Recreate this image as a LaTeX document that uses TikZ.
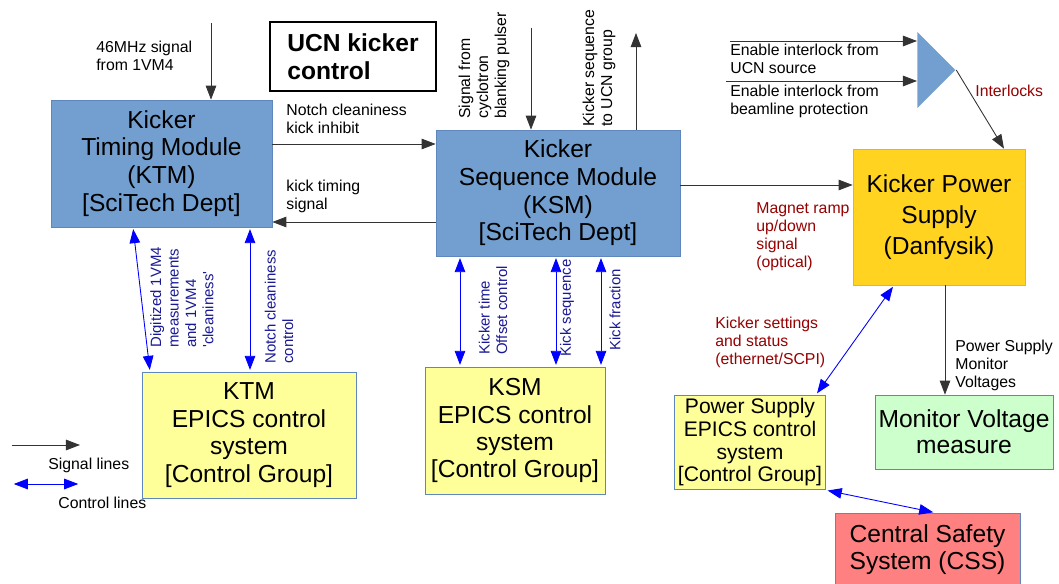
\documentclass[tikz,border=0pt]{standalone}
\usepackage{fontspec}
\setmainfont{Liberation Sans}
\usetikzlibrary{arrows.meta,shapes.geometric}

\definecolor{modblue}{RGB}{114,159,207}
\definecolor{modedge}{RGB}{95,135,190}
\definecolor{epicsyellow}{RGB}{255,255,153}
\definecolor{psgold}{RGB}{255,211,32}
\definecolor{psedge}{RGB}{255,165,50}
\definecolor{monigreen}{RGB}{204,255,204}
\definecolor{cssred}{RGB}{255,128,128}
\definecolor{ctlblue}{RGB}{0,0,255}
\definecolor{ctltext}{RGB}{25,25,150}
\definecolor{linkred}{RGB}{150,0,0}

\begin{document}
\begin{tikzpicture}[x=0.02cm, y=-0.02cm, >={Triangle[length=8pt,width=6pt]},
    module/.style={draw=modedge, fill=modblue, align=center, inner sep=2pt, font=\fontsize{14}{15.8}\selectfont},
    epics/.style={draw=modedge, fill=epicsyellow, align=center, inner sep=2pt, font=\fontsize{14}{15.6}\selectfont},
    sig/.style={->, draw=black!80, line width=0.5pt},
    ctl/.style={<->, draw=ctlblue, line width=0.5pt, shorten <=1pt, shorten >=1pt},
    note/.style={anchor=west, align=left, inner sep=0pt, font=\fontsize{9}{10.25}\selectfont},
    vnote/.style={note, rotate=90, text=ctltext, font=\fontsize{8.5}{9.9}\selectfont}]
    \useasboundingbox (0,0) rectangle (1059,584);

    % Nodes
    \node[module, minimum width=4.42cm, minimum height=2.54cm] at (161.5,163.5) (ktm) {Kicker\\Timing Module\\(KTM)\\{[SciTech Dept]}};
    \node[module, minimum width=4.88cm, minimum height=2.52cm] at (558,193) (ksm) {Kicker\\Sequence Module\\(KSM)\\{[SciTech Dept]}};
    \node[draw=psedge, fill=psgold, align=center, font=\fontsize{14}{17.6}\selectfont, minimum width=3.44cm, minimum height=2.72cm] at (939,217) (kps) {Kicker Power\\Supply\\(Danfysik)};
    \node[epics, minimum width=4.28cm, minimum height=2.52cm] at (249,435) (ktmepics) {KTM\\EPICS control\\system\\{[Control Group]}};
    \node[epics, font=\fontsize{14}{15.4}\selectfont, minimum width=3.6cm, minimum height=2.54cm] at (515,430.5) (ksmepics) {KSM\\EPICS control\\system\\{[Control Group]}};
    \node[epics, font=\fontsize{12}{12.9}\selectfont, minimum width=2.92cm, minimum height=1.82cm] at (750,442.5) (psepics) {Power Supply\\EPICS control\\system\\{[Control Group]}};
    \node[draw=modedge, fill=monigreen, align=center, inner sep=1pt, font=\fontsize{14}{14.8}\selectfont, minimum width=3.56cm, minimum height=1.48cm] at (964,432) (monitor) {Monitor Voltage\\measure};
    \node[draw=modedge, fill=cssred, align=center, inner sep=1pt, font=\fontsize{14}{15.4}\selectfont, minimum width=3.7cm, minimum height=1.48cm] at (927.5,550) (css) {Central Safety\\System (CSS)};
    \node[draw, line width=1.6pt, align=left, font=\bfseries\fontsize{14}{16}\selectfont, minimum width=3.32cm, minimum height=1.38cm] at (353,56.5) (title) {UCN kicker\\control};
    \node[isosceles triangle, isosceles triangle stretches, fill=modblue, inner sep=0pt, minimum width=1.52cm, minimum height=0.76cm, anchor=lower side] at (917,70) (gate) {};

    % Labels
    \node[note] at (96,56) (clklbl) {46MHz signal\\from 1VM4};
    \node[note] at (286,119) (inhlbl) {Notch cleaniness\\kick inhibit};
    \node[note] at (286,196) (kicklbl) {kick timing\\signal};
    \node[vnote, text=black, font=\fontsize{9}{10.25}\selectfont] at (484,119) (cyclbl) {Signal from\\cyclotron\\blanking pulser};
    \node[vnote, text=black, font=\fontsize{9}{10.25}\selectfont] at (599,127) (ucnlbl) {Kicker sequence\\to UCN group};
    \node[note] at (730,59) (enucnlbl) {Enable interlock from\\UCN source};
    \node[note] at (730,101) (enbllbl) {Enable interlock from\\beamline protection};
    \node[note, text=linkred] at (975,91) (intlbl) {Interlocks};
    \node[note, text=linkred] at (756,237) (ramplbl) {Magnet ramp\\up/down\\signal\\(optical)};
    \node[vnote] at (182,348) (diglbl) {Digitized 1VM4\\measurements\\and 1VM4\\\textquotesingle cleaniness\textquotesingle};
    \node[vnote] at (279,364) (ncclbl) {Notch cleaniness\\control};
    \node[vnote] at (493,355) (offlbl) {Kicker time\\Offset control};
    \node[vnote] at (567,357) (seqlbl) {Kick sequence};
    \node[vnote] at (615,351) (fraclbl) {Kick fraction};
    \node[note, text=linkred] at (715,342) (setlbl) {Kicker settings\\and status\\(ethernet/SCPI)};
    \node[note] at (955,365) (pmvlbl) {Power Supply\\Monitor\\Voltages};
    \node[note] at (48,465) (siglbl) {Signal lines};
    \node[note] at (58,503) (ctllbl) {Control lines};

    % Edges
    \coordinate (clk) at (211,23);
    \draw[sig] (clk) -- (ktm.north -| clk);
    \draw[sig] (ktm.east |- 0,144) -- (ksm.west |- 0,144);
    \draw[sig] (ksm.west |- 0,222) -- (ktm.east |- 0,222);
    \coordinate (cyc) at (531,28);
    \draw[sig] (cyc) -- (ksm.north -| cyc);
    \coordinate (ucn) at (636,33);
    \draw[sig] (ksm.north -| ucn) -- (ucn);
    \draw[sig] (ksm.east |- 0,185) -- (kps.west |- 0,185);
    \coordinate (enucn) at (730,41);
    \coordinate (enbl) at (726,81);
    \draw[sig] (enucn) -- (gate.lower side |- enucn);
    \draw[sig] (enbl) -- (gate.lower side |- enbl);
    \draw[sig] (gate.apex) -- (kps.north -| 1004,0);
    \draw[sig] (kps.south -| 945,0) -- (monitor.north -| 945,0);

    \draw[ctl] (ktm.south -| 133,0) -- (ktmepics.north -| 150,0);
    \draw[ctl] (ktm.south -| 250,0) -- (ktmepics.north -| 250,0);
    \draw[ctl] (ksm.south -| 460,0) -- (ksmepics.north -| 460,0);
    \draw[ctl] (ksm.south -| 556,0) -- (ksmepics.north -| 556,0);
    \draw[ctl] (ksm.south -| 601,0) -- (ksmepics.north -| 601,0);
    \draw[ctl] (kps.south -| 894,0) -- (psepics.north -| 816,0);
    \draw[ctl] (psepics.south east) -- (css.north -| 935,0);

    % Legend
    \coordinate (sigA) at (12,445);
    \coordinate (sigB) at (80,445);
    \draw[sig] (sigA) -- (sigB);
    \coordinate (ctlA) at (12,484);
    \coordinate (ctlB) at (80,484);
    \draw[ctl] (ctlA) -- (ctlB);
\end{tikzpicture}
\end{document}
